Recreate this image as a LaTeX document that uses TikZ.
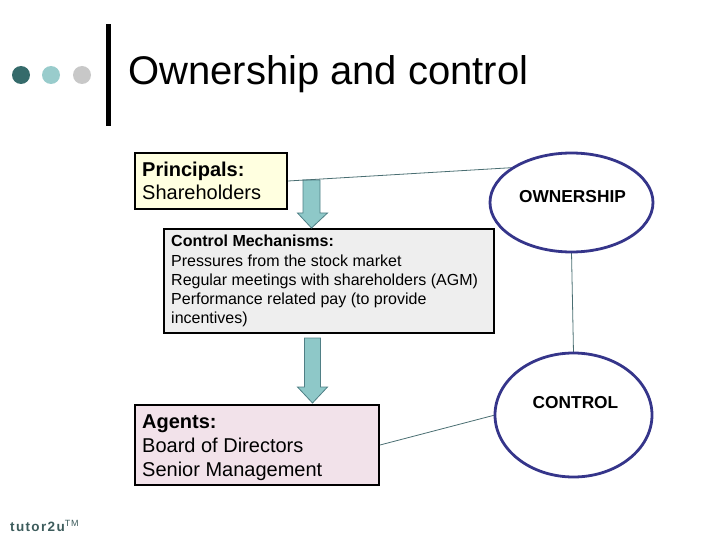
\documentclass[tikz,border=0pt]{standalone}
\usepackage{fontspec}
\setmainfont{Liberation Sans}
\usetikzlibrary{shapes.geometric}
\definecolor{dotdark}{HTML}{356B6B}
\definecolor{dotlight}{HTML}{99CCCC}
\definecolor{dotgray}{HTML}{C8C8C8}
\definecolor{arrowfill}{HTML}{8EC8C8}
\definecolor{arrowline}{HTML}{4F7F85}
\definecolor{yellowfill}{HTML}{FFFFE0}
\definecolor{grayfill}{HTML}{EEEEEE}
\definecolor{pinkfill}{HTML}{F2E2EA}
\definecolor{ellline}{HTML}{35358A}
\definecolor{connline}{HTML}{4A6E72}
\definecolor{logo}{HTML}{3D5C5C}
\begin{document}
\begin{tikzpicture}[x=1pt,y=-1pt,
  box/.style={draw=black,line width=2pt,rectangle,inner sep=0pt},
  txt/.style={anchor=base west,inner sep=0pt},
  ell/.style={draw=ellline,line width=2.8pt,ellipse,inner sep=0pt,fill=white},
  conn/.style={draw=connline,line width=0.8pt},
  blockarrow/.style={fill=arrowfill,draw=arrowline,line width=0.8pt,line join=miter}]
\useasboundingbox (0,0) rectangle (720,540);
% header
\fill[dotdark] (21,75) circle (9);
\fill[dotlight] (51,75) circle (9);
\fill[dotgray] (82,75) circle (9);
\fill[black] (106,24) rectangle (110.5,126);
\node[txt,font=\fontsize{40}{44}\selectfont] (title) at (128,85) {Ownership and control};
% boxes
\node[box,fill=yellowfill,minimum width=152pt,minimum height=56pt] (prin) at (211,181) {};
\node[box,fill=grayfill,minimum width=330pt,minimum height=104pt] (mech) at (329,281) {};
\node[box,fill=pinkfill,minimum width=244pt,minimum height=80pt] (agent) at (257,445) {};
% texts
\node[txt,font=\fontsize{20}{24}\selectfont\bfseries] (p1) at (142,177) {Principals:};
\node[txt,font=\fontsize{20}{24}\selectfont] (p2) at (142,200) {Shareholders};
\node[txt,font=\fontsize{16}{19}\selectfont\bfseries] (m1) at (171,247) {Control Mechanisms:};
\node[txt,font=\fontsize{16}{19}\selectfont] (m2) at (171,266) {Pressures from the stock market};
\node[txt,font=\fontsize{16}{19}\selectfont] (m3) at (171,285) {Regular meetings with shareholders (AGM)};
\node[txt,font=\fontsize{16}{19}\selectfont] (m4) at (171,304) {Performance related pay (to provide};
\node[txt,font=\fontsize{16}{19}\selectfont] (m5) at (171,323) {incentives)};
\node[txt,font=\fontsize{20}{24}\selectfont\bfseries] (a1) at (142,428) {Agents:};
\node[txt,font=\fontsize{20}{24}\selectfont] (a2) at (142,452) {Board of Directors};
\node[txt,font=\fontsize{20}{24}\selectfont] (a3) at (142,476) {Senior Management};
% block arrows
\draw[blockarrow] (303,180) -- (320,180) -- (320,213) -- (327.5,213) -- (311.5,228) -- (297.5,213) -- (303,213) -- cycle;
\draw[blockarrow] (304.5,338) -- (320.5,338) -- (320.5,387) -- (327.5,387) -- (312.5,403) -- (297.5,387) -- (304.5,387) -- cycle;
% connectors (behind ellipses)
\coordinate (ownc) at (571.5,202.5);
\coordinate (ctrlc) at (573.5,415);
\draw[conn] (prin.east) -- (523,167);
\draw[conn] (571.5,252) -- (573.5,353);
\draw[conn] (agent.east) -- (495,415);
% ellipses
\node[ell,minimum width=163pt,minimum height=99pt] (own) at (ownc) {};
\node[ell,minimum width=157pt,minimum height=124pt] (ctrl) at (ctrlc) {};
\node[anchor=center,inner sep=0pt,font=\fontsize{17.3}{20}\selectfont\bfseries] (ownt) at (572.5,197) {OWNERSHIP};
\node[anchor=center,inner sep=0pt,font=\fontsize{17.3}{20}\selectfont\bfseries] (ctrlt) at (575.5,403) {CONTROL};
% logo
\node[txt,font=\fontsize{13.5}{16}\selectfont\bfseries,text=logo] (logo) at (10,531) {\addfontfeatures{LetterSpace=10}tutor2u\raisebox{4.5pt}{\fontsize{9}{10}\selectfont\mdseries TM}};
\end{tikzpicture}
\end{document}
